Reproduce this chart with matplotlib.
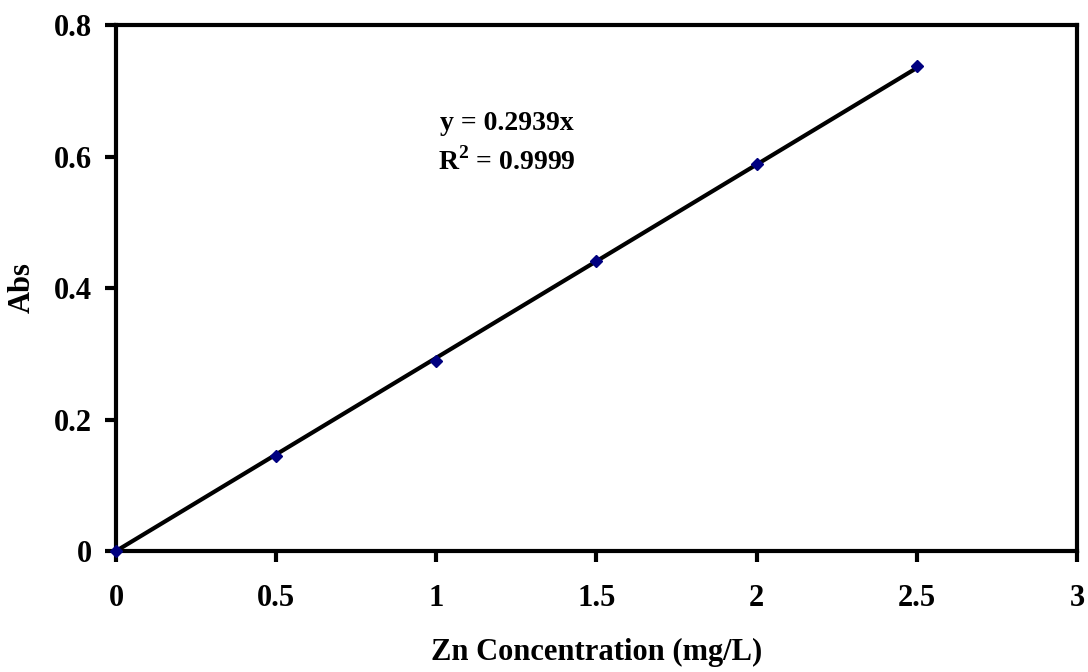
import numpy as np
import matplotlib.pyplot as plt

plt.rcParams['font.family'] = ['Liberation Serif', 'DejaVu Serif']
plt.rcParams['font.weight'] = 'bold'
plt.rcParams['mathtext.fontset'] = 'custom'
plt.rcParams['mathtext.rm'] = 'Liberation Serif:bold'
plt.rcParams['mathtext.bf'] = 'Liberation Serif:bold'

# Calibration data
conc = [0, 0.5, 1.0, 1.5, 2.0, 2.5]
absorb = [0.0, 0.145, 0.289, 0.441, 0.588, 0.737]
slope = 0.2939

fig = plt.figure(figsize=(10.88, 6.72), dpi=100)
ax = fig.add_axes([0.1066, 0.180, 0.8833, 0.7828])

xfit = np.array([0, 2.5])
ax.plot(xfit, slope * xfit, color='black', lw=3, zorder=2, clip_on=False)
ax.plot(conc, absorb, linestyle='none', marker='D', ms=6, color='#000080',
        zorder=3, clip_on=False)

ax.set_xlim(0, 3)
ax.set_ylim(0, 0.8)
ax.set_xticks([0, 0.5, 1, 1.5, 2, 2.5, 3])
ax.set_xticklabels(['0', '0.5', '1', '1.5', '2', '2.5', '3'])
ax.set_yticks([0, 0.2, 0.4, 0.6, 0.8])
ax.set_yticklabels(['0', '0.2', '0.4', '0.6', '0.8'])

for s in ax.spines.values():
    s.set_linewidth(3)
ax.tick_params(direction='out', length=8, width=3, labelsize=22)
ax.tick_params(axis='x', pad=16)
ax.tick_params(axis='y', pad=9)
for lbl in ax.get_xticklabels() + ax.get_yticklabels():
    lbl.set_fontweight('bold')

ax.set_xlabel('Zn Concentration (mg/L)', fontsize=22, fontweight='bold')
ax.set_ylabel('Abs', fontsize=22, fontweight='bold')
ax.xaxis.set_label_coords(0.5, (551 - 652) / 526, transform=ax.transAxes)
ax.yaxis.set_label_coords((22 - 116) / 961, 0.5, transform=ax.transAxes)
ax.xaxis.label.set_va('center')
ax.yaxis.label.set_va('center')

ax.text(0.337, 0.800, 'y = 0.2939x', transform=ax.transAxes, fontsize=20,
        fontweight='bold', ha='left', va='baseline')
ax.text(0.335, 0.725, r'R$^{\mathbf{2}}$ = 0.9999', transform=ax.transAxes, fontsize=20,
        fontweight='bold', ha='left', va='baseline')

fig.savefig('out.png', dpi=100)
